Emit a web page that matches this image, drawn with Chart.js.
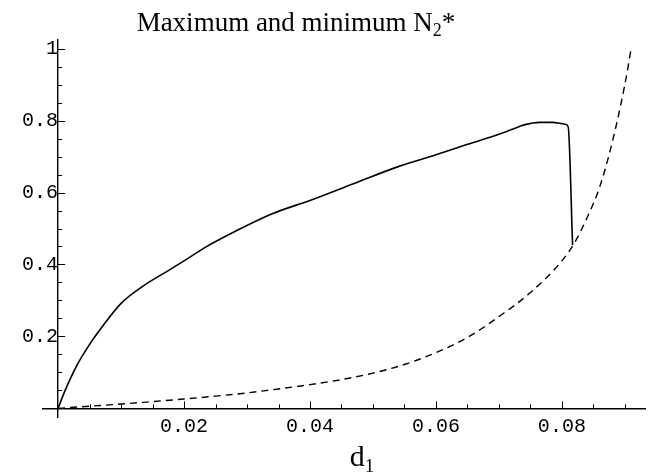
<!DOCTYPE html>
<html>
<head>
<meta charset="utf-8">
<script src="https://cdn.jsdelivr.net/npm/chart.js@4"></script>
<style>
  body { margin: 0; background: #fff; }
  #wrap { width: 652px; height: 473px; position: relative; }
</style>
</head>
<body>
<div id="wrap"><canvas id="plot"></canvas></div>
<script>
// upper curve (maximum N2*), solid
const maxX = [0, 0.001, 0.003, 0.005, 0.007, 0.01, 0.0135, 0.0175, 0.02, 0.0235, 0.028, 0.034, 0.04, 0.047, 0.054, 0.06, 0.065, 0.07, 0.072, 0.074, 0.0765, 0.0785, 0.0805, 0.081, 0.0817];
const maxY = [0, 0.045, 0.12, 0.178, 0.227, 0.292, 0.34, 0.383, 0.41, 0.449, 0.491, 0.541, 0.578, 0.625, 0.672, 0.705, 0.734, 0.762, 0.775, 0.788, 0.795, 0.795, 0.79, 0.783, 0.454];

// lower curve (minimum N2*), dashed
const minX = [0, 0.005, 0.01, 0.015, 0.02, 0.025, 0.03, 0.035, 0.04, 0.045, 0.05, 0.055, 0.06, 0.065, 0.07, 0.075, 0.08, 0.082, 0.084, 0.086, 0.088, 0.09, 0.091];
const minY = [0, 0.006, 0.012, 0.019, 0.026, 0.034, 0.043, 0.054, 0.066, 0.08, 0.098, 0.122, 0.155, 0.197, 0.255, 0.322, 0.41, 0.46, 0.53, 0.615, 0.74, 0.9, 1.0];

const xMajor = [0.02, 0.04, 0.06, 0.08];
const yMajor = [0.2, 0.4, 0.6, 0.8, 1];

const toPts = (xs, ys) => xs.map((x, i) => ({ x: x, y: ys[i] }));
const isMajor = (v, list) => list.some(m => Math.abs(m - v) < 1e-6);

// Mathematica style tick marks, pointing into the plot
const tickMarks = {
    id: 'tickMarks',
    afterDraw(chart) {
        const { ctx, scales: { x, y } } = chart;
        const x0 = x.getPixelForValue(0);
        const y0 = y.getPixelForValue(0);
        ctx.save();
        ctx.strokeStyle = '#000';
        ctx.lineWidth = 1;
        x.ticks.forEach(t => {
            if (Math.abs(t.value) < 1e-9) return;
            const len = isMajor(t.value, xMajor) ? 7 : 4;
            const px = Math.round(x.getPixelForValue(t.value)) + 0.5;
            ctx.beginPath();
            ctx.moveTo(px, y0);
            ctx.lineTo(px, y0 - len);
            ctx.stroke();
        });
        y.ticks.forEach(t => {
            if (Math.abs(t.value) < 1e-9) return;
            const len = isMajor(t.value, yMajor) ? 7 : 4;
            const py = Math.round(y.getPixelForValue(t.value)) + 0.5;
            ctx.beginPath();
            ctx.moveTo(x0, py);
            ctx.lineTo(x0 + len, py);
            ctx.stroke();
        });
        ctx.restore();
    }
};

// titles with subscripts
function subText(ctx, parts, cx, baseline) {
    let total = 0;
    parts.forEach(p => { ctx.font = p.font; total += ctx.measureText(p.text).width; });
    let xx = cx - total / 2;
    parts.forEach(p => {
        ctx.font = p.font;
        ctx.fillText(p.text, xx, baseline + (p.dy || 0));
        xx += ctx.measureText(p.text).width;
    });
}

const titles = {
    id: 'titles',
    afterDraw(chart) {
        const ctx = chart.ctx;
        ctx.save();
        ctx.fillStyle = '#000';
        ctx.textAlign = 'left';
        ctx.textBaseline = 'alphabetic';
        subText(ctx, [
            { text: 'Maximum and minimum N', font: '27px "Liberation Serif"' },
            { text: '2', font: '18px "Liberation Serif"', dy: 5 },
            { text: '*', font: '27px "Liberation Serif"' }
        ], 296, 31);
        subText(ctx, [
            { text: 'd', font: '30px "Liberation Serif"' },
            { text: '1', font: '19px "Liberation Serif"', dy: 6 }
        ], 362, 466);
        ctx.restore();
    }
};

new Chart(document.getElementById('plot'), {
    type: 'line',
    data: {
        datasets: [
            {
                label: 'maximum',
                data: toPts(maxX, maxY),
                borderColor: '#000',
                borderWidth: 1.6,
                pointRadius: 0,
                fill: false,
                cubicInterpolationMode: 'monotone'
            },
            {
                label: 'minimum',
                data: toPts(minX, minY),
                borderColor: '#000',
                borderWidth: 1.4,
                borderDash: [7, 5],
                pointRadius: 0,
                fill: false,
                cubicInterpolationMode: 'monotone'
            }
        ]
    },
    options: {
        responsive: true,
        maintainAspectRatio: false,
        animation: false,
        layout: { padding: { left: 43, right: 7, top: 40, bottom: 56 } },
        plugins: {
            legend: { display: false },
            tooltip: { enabled: false }
        },
        scales: {
            x: {
                type: 'linear',
                min: -0.0024,
                max: 0.0932,
                position: { y: 0 },
                border: { display: true, color: '#000', width: 1.4 },
                grid: { display: true, drawOnChartArea: false, drawTicks: false },
                ticks: {
                    stepSize: 0.005,
                    includeBounds: false,
                    autoSkip: false,
                    maxRotation: 0,
                    padding: 6,
                    color: '#000',
                    font: { family: '"Liberation Mono"', size: 20 },
                    callback: v => isMajor(v, xMajor) ? v.toFixed(2) : ''
                }
            },
            y: {
                type: 'linear',
                min: -0.024,
                max: 1.024,
                position: { x: 0 },
                border: { display: true, color: '#000', width: 1.4 },
                grid: { display: true, drawOnChartArea: false, drawTicks: false },
                ticks: {
                    stepSize: 0.05,
                    includeBounds: false,
                    autoSkip: false,
                    padding: 6,
                    color: '#000',
                    font: { family: '"Liberation Mono"', size: 20 },
                    callback: v => isMajor(v, yMajor) ? (Math.abs(v - 1) < 1e-6 ? '1' : v.toFixed(1)) : ''
                }
            }
        }
    },
    plugins: [tickMarks, titles]
});
</script>
</body>
</html>
